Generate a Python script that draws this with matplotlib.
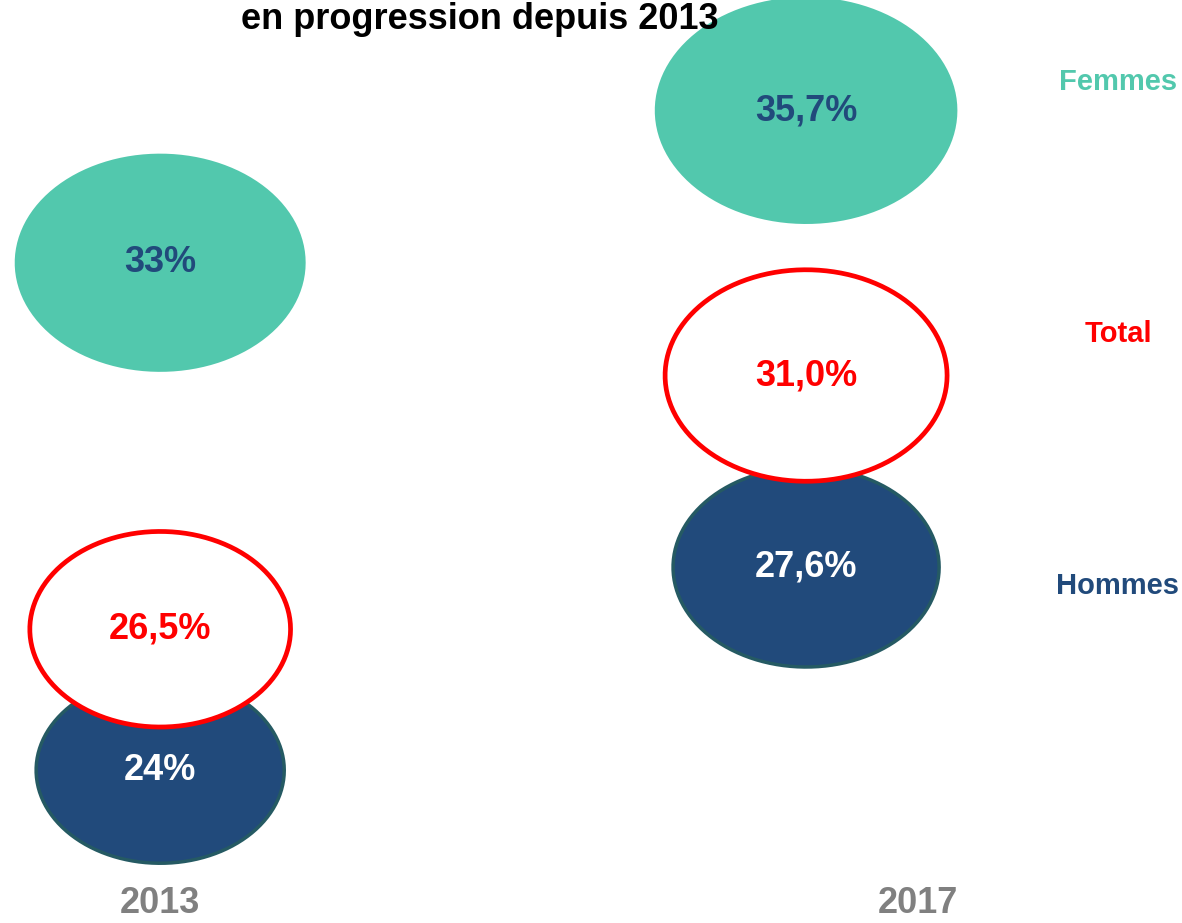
import numpy as np
import matplotlib
matplotlib.use('Agg')
import matplotlib.pyplot as plt
from matplotlib.path import Path

plt.rcParams['font.family'] = ['Liberation Sans', 'DejaVu Sans']

# data
years = ['2013', '2017']
femmes = [33.0, 35.7]
total = [26.5, 31.0]
hommes = [24.0, 27.6]
femmes_lbl = ['33%', '35,7%']
total_lbl = ['26,5%', '31,0%']
hommes_lbl = ['24%', '27,6%']

teal = '#52C8AD'
navy = '#214A7B'
red = '#FF0000'

# bubbles are squashed circles -> custom ellipse marker
t = np.linspace(0, 2*np.pi, 120)
ell = Path(np.column_stack([np.cos(t), 0.75*np.sin(t)]), closed=True)
k = 1330  # marker area per percent point

fig = plt.figure(figsize=(11.82, 9.23), dpi=100)
ax = fig.add_axes([0, 0, 1, 1])
x = np.arange(len(years))

# draw order: hommes, then total on top, then femmes
ax.scatter(x, hommes, s=[k*v for v in hommes], marker=ell, color=navy,
           edgecolor='#255A63', linewidth=2.5, zorder=2)
ax.scatter(x, total, s=[k*v for v in total], marker=ell, color='white',
           edgecolor=red, linewidth=3.4, zorder=3)
ax.scatter(x, femmes, s=[k*v for v in femmes], marker=ell, color=teal,
           edgecolor='none', zorder=4)

for i in x:
    ax.text(i, hommes[i], hommes_lbl[i], ha='center', va='center', color='white',
            fontsize=26, fontweight='bold', zorder=5)
    ax.text(i, total[i], total_lbl[i], ha='center', va='center', color=red,
            fontsize=26, fontweight='bold', zorder=5)
    ax.text(i, femmes[i], femmes_lbl[i], ha='center', va='center', color=navy,
            fontsize=26, fontweight='bold', zorder=5)

ax.set_xlim(-0.248, 1.582)
ax.set_ylim(21.29, 37.66)
ax.axis('off')

# series names on the right
fig.text(1118/1182, 1-82/923, 'Femmes', ha='center', va='center', color=teal,
         fontsize=21, fontweight='bold')
fig.text(1118/1182, 1-334/923, 'Total', ha='center', va='center', color=red,
         fontsize=21, fontweight='bold')
fig.text(1118/1182, 1-586/923, 'Hommes', ha='center', va='center', color=navy,
         fontsize=21, fontweight='bold')

# year labels
fig.text(160/1182, 1-913/923, years[0], ha='center', va='baseline', color='#808080',
         fontsize=26, fontweight='bold')
fig.text(918/1182, 1-913/923, years[1], ha='center', va='baseline', color='#808080',
         fontsize=26, fontweight='bold')

# title sits right at the top edge
fig.text(480/1182, 1-29/923, 'en progression depuis 2013', ha='center', va='baseline',
         fontsize=26, fontweight='bold', color='black')

plt.savefig('out.png', dpi=100)
